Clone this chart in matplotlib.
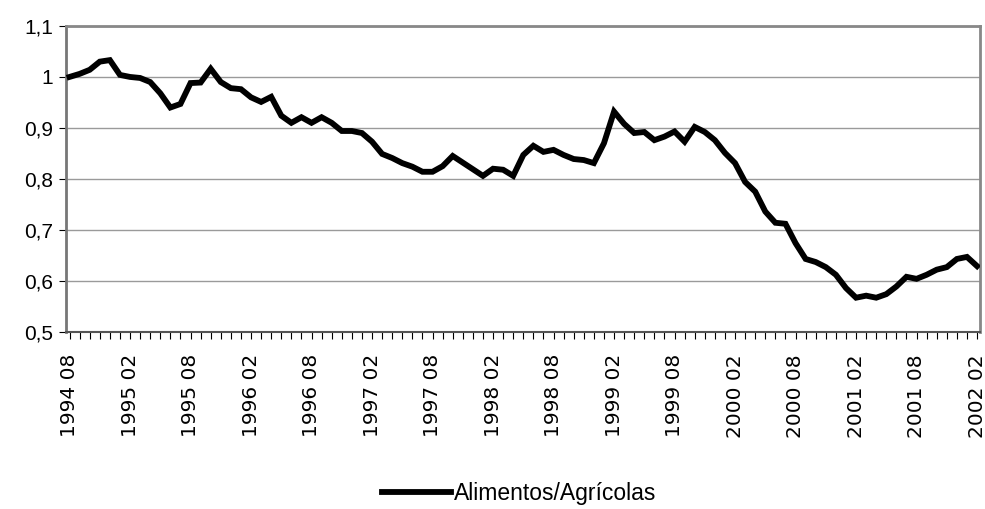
import matplotlib.pyplot as plt
from matplotlib.ticker import FuncFormatter, MultipleLocator

plt.rcParams['font.family'] = ['Liberation Sans', 'DejaVu Sans']

# monthly index, 1994-08 .. 2002-02
start_year, start_month = 1994, 8
values = [
    1.000, 1.006, 1.014, 1.030, 1.033, 1.004, 1.000, 0.998, 0.990, 0.968,
    0.940, 0.947, 0.988, 0.989, 1.016, 0.990, 0.978, 0.976, 0.960, 0.951,
    0.961, 0.924, 0.910, 0.921, 0.910, 0.921, 0.910, 0.894, 0.894, 0.890,
    0.873, 0.849, 0.841, 0.831, 0.824, 0.814, 0.814, 0.825, 0.845, 0.832,
    0.819, 0.806, 0.820, 0.818, 0.806, 0.847, 0.865, 0.853, 0.857, 0.847,
    0.839, 0.837, 0.831, 0.870, 0.932, 0.908, 0.890, 0.892, 0.876, 0.883,
    0.893, 0.873, 0.902, 0.892, 0.876, 0.851, 0.831, 0.794, 0.775, 0.736,
    0.714, 0.712, 0.674, 0.643, 0.637, 0.627, 0.612, 0.586, 0.567, 0.571,
    0.567, 0.574, 0.589, 0.608, 0.604, 0.612, 0.622, 0.627, 0.643, 0.647,
    0.629,
]
series_name = "Alimentos/Agrícolas"

labels = []
for i in range(len(values)):
    m = start_month - 1 + i
    labels.append("{} {:02d}".format(start_year + m // 12, m % 12 + 1))

fig = plt.figure(figsize=(9.85, 5.09), dpi=100)
ax = fig.add_axes([0.067, 0.348, 0.928, 0.601])

x = list(range(len(values)))
line, = ax.plot(x, values, color='black', lw=4.2, solid_joinstyle='miter',
                label=series_name, zorder=3)

ax.set_ylim(0.5, 1.1)
ax.set_xlim(-0.35, 90.3)
ax.yaxis.set_major_locator(MultipleLocator(0.1))
ax.yaxis.set_major_formatter(FuncFormatter(
    lambda v, p: ("%g" % round(v, 1)).replace('.', ',')))
ax.grid(axis='y', color='#9a9a9a', lw=1)
ax.set_axisbelow(True)

ax.set_xticks(x[::6])
ax.set_xticklabels(labels[::6], rotation=90, fontsize=14.5, family='DejaVu Sans')
ax.set_xticks(x, minor=True)
ax.tick_params(axis='x', which='both', direction='out', length=5,
               width=0.8, color='black', pad=11)
ax.tick_params(axis='y', direction='out', length=5, width=0.8,
               labelsize=15, pad=4)

for side in ['top', 'right']:
    ax.spines[side].set_color('#888888')
    ax.spines[side].set_linewidth(2)
ax.spines['left'].set_color('#777777')
ax.spines['left'].set_linewidth(2)
ax.spines['bottom'].set_color('#555555')
ax.spines['bottom'].set_linewidth(1.5)

fig.legend(handles=[line], loc='center', bbox_to_anchor=(0.527, 0.031),
           frameon=False, fontsize=16.5, handlelength=3.0, handletextpad=0.15)

fig.savefig('out.png', dpi=100)
